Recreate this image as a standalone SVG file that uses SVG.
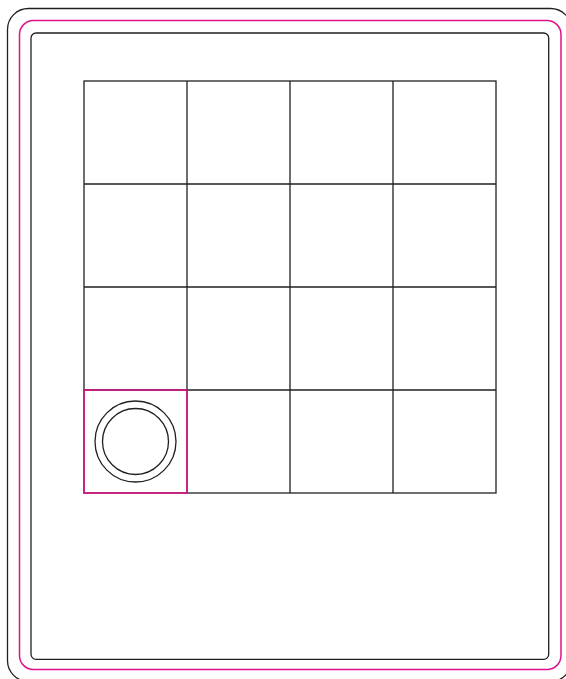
<svg xmlns="http://www.w3.org/2000/svg" width="566" height="679" viewBox="0 0 566 679">
<style>
.k{fill:none;stroke:#231f20;stroke-width:1.3}
.p{fill:none;stroke:#e0118a;stroke-width:1.5}
</style>
<rect width="566" height="679" fill="#fff"/>
<g id="frame">
<rect class="k" x="7.5" y="8.5" width="564" height="673" rx="21"/>
<rect class="p" x="19.5" y="20.5" width="541.5" height="649" rx="14"/>
<rect class="k" x="31" y="33" width="517.7" height="626.3" rx="5"/>
</g>
<g id="grid">
<rect class="k" x="84" y="81" width="412" height="412"/>
<path class="k" d="M187 81V493M290 81V493M393 81V493M84 184H496M84 287H496M84 390H496"/>
</g>
<g id="piece">
<rect class="p" x="84" y="390" width="103" height="103"/>
<circle class="k" cx="135.5" cy="441.5" r="40.5"/>
<circle class="k" cx="135.5" cy="441.5" r="33"/>
</g>
</svg>
